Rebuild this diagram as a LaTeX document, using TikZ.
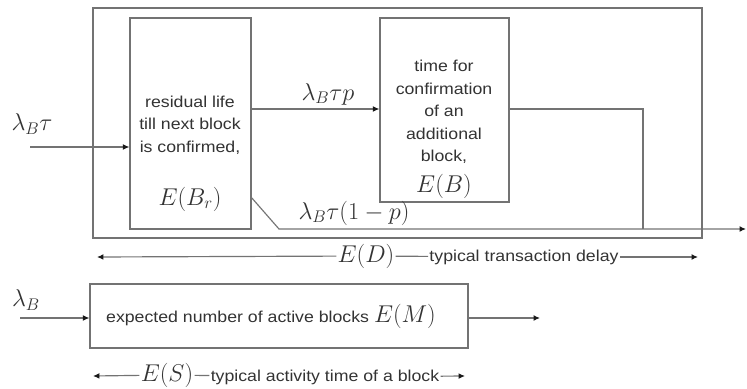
\documentclass[tikz,border=0pt]{standalone}
\usepackage{fontspec}
\setmainfont{Liberation Sans}[FakeStretch=1.12]
\usetikzlibrary{arrows.meta, positioning, fit, calc}
\colorlet{linegray}{black!55}
\colorlet{textgray}{black!80}

\begin{document}
\begin{tikzpicture}[
    x=0.03cm, y=-0.03cm,
    box/.style={rectangle, draw=linegray, line width=1.1pt, inner sep=0pt},
    txt/.style={font=\fontsize{13.5}{19.2}\selectfont, text=textgray, align=center, inner sep=1pt},
    mth/.style={font=\fontsize{22.5}{24}\selectfont, text=textgray, inner sep=1pt},
    flow/.style={draw=linegray, line width=1pt},
    arr/.style={flow, -{Latex[length=5.5pt, width=5pt, color=black!90]}},
]
    \useasboundingbox (0,0) rectangle (747,389);

    % transaction delay frame
    \coordinate (d1) at (93,8);
    \coordinate (d2) at (702,238);
    \node[box, fit=(d1)(d2)] (delay) {};

    % residual life box
    \coordinate (r1) at (130,18);
    \coordinate (r2) at (251,229);
    \node[box, fill=white, fit=(r1)(r2)] (residual) {};
    \node[txt] (rtext) at (190,125) {residual life\\till next block\\is confirmed,};
    \node[mth] (Br) at (190,199) {$E(B_r)$};

    % confirmation box
    \coordinate (c1) at (380,18);
    \coordinate (c2) at (509,202);
    \node[box, fill=white, fit=(c1)(c2)] (confirm) {};
    \node[txt] (ctext) at (444,112) {time for\\confirmation\\of an\\additional\\block,};
    \node[mth] (EB) at (444,186) {$E(B)$};

    % input
    \coordinate (tin) at (30,147);
    \node[mth] (lin) at (32,124) {$\lambda_B\tau$};
    \draw[arr] (tin) -- (residual.west |- tin);

    % branch p
    \coordinate (pout) at (251,109);
    \node[mth] (lp) at (328,94) {$\lambda_B\tau p$};
    \draw[arr] (pout) -- (confirm.west |- pout);

    % branch 1-p
    \coordinate (qout) at (251,197);
    \coordinate (qbend) at (279,229);
    \coordinate (tout) at (746,229);
    \coordinate (cdown) at (643,229);
    \node[mth] (lq) at (354,213) {$\lambda_B\tau(1-p)$};
    \draw[arr] (qout) -- (qbend) -- (tout);
    \draw[flow] (confirm.east |- pout) -| (cdown);

    % delay span
    \coordinate (dl) at (97,257);
    \coordinate (dr) at (698,257);
    \node[mth] (ED) at (366,256) {$E(D)$};
    \node[txt] (tdelay) at (524,257) {typical transaction delay};
    \draw[arr] (ED) -- (dl);
    \draw[flow] (ED) -- (tdelay);
    \draw[arr] (tdelay) -- (dr);

    % active blocks
    \coordinate (m1) at (90,284);
    \coordinate (m2) at (468,348);
    \node[box, fit=(m1)(m2)] (active) {};
    \node[txt] (mtext) at (271,316) {expected number of active blocks {\fontsize{22.5}{24}\selectfont$E(M)$}};
    \coordinate (bin) at (20,318);
    \coordinate (bout) at (540,318);
    \node[mth] (lb) at (26,300) {$\lambda_B$};
    \draw[arr] (bin) -- (active.west |- bin);
    \draw[arr] (active.east |- bin) -- (bout);

    % activity span
    \coordinate (sl) at (93,376);
    \coordinate (sr) at (465,376);
    \node[mth] (ES) at (167,375) {$E(S)$};
    \node[txt] (tact) at (325,377) {typical activity time of a block};
    \draw[arr] (ES) -- (sl);
    \draw[flow] (ES) -- (tact);
    \draw[arr] (tact) -- (sr);
\end{tikzpicture}
\end{document}
